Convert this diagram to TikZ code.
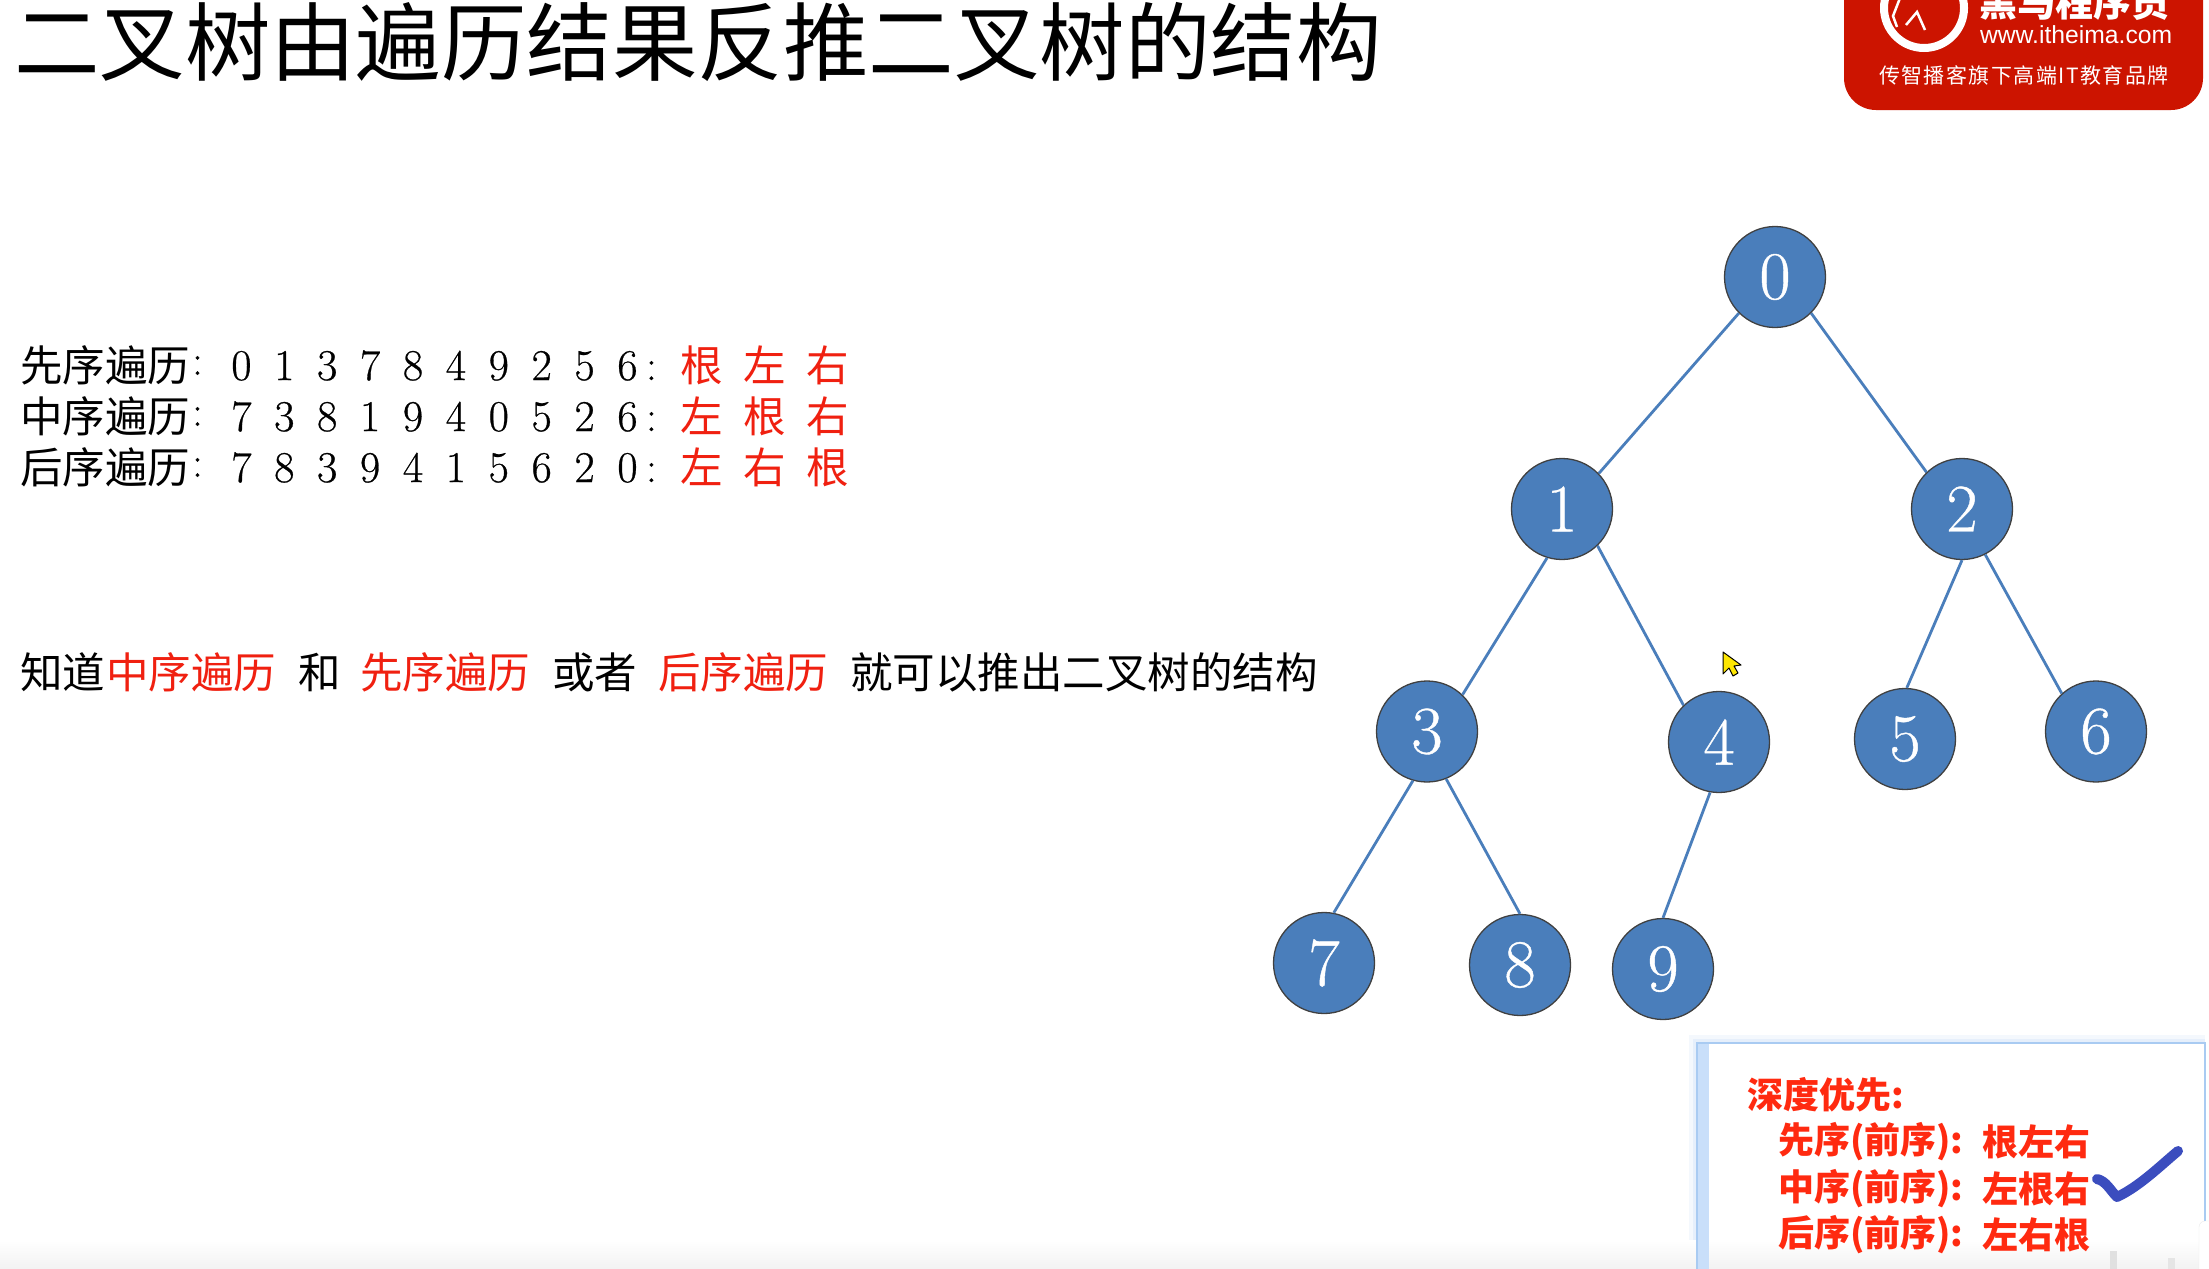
\documentclass[tikz,border=0pt]{standalone}
\usepackage{fontspec}
\newfontfamily\cjk{Noto Sans CJK SC}
\newfontfamily\cjkspaced{Noto Sans CJK SC}[LetterSpace=7]
\newfontfamily\arialf{Liberation Sans}
\newfontfamily\lmheavy{Latin Modern Roman}[FakeBold=0.6]
\usetikzlibrary{calc}
\definecolor{nodeblue}{HTML}{4A7EBB}
\definecolor{logored}{HTML}{CC1400}
\definecolor{txtred}{HTML}{F02010}
\definecolor{boxred}{HTML}{FF2A10}
\definecolor{checkblue}{HTML}{3B4DBE}
\definecolor{stripblue}{HTML}{C9DFFA}
\definecolor{edgeblue}{HTML}{A9CBF2}
\newcommand{\dd}[1]{\makebox[42.9pt]{#1}}
\tikzset{
  treenode/.style={circle,fill=nodeblue,draw=black!75,line width=1.3pt,minimum size=101pt,inner sep=0pt,text=white,font=\lmheavy\fontsize{68}{68}\selectfont},
  treeedge/.style={draw=nodeblue,line width=2.8pt},
  plain/.style={inner sep=0pt,outer sep=0pt,anchor=west,font=\cjk\fontsize{42.5}{42.5}\selectfont},
  digits/.style={inner sep=0pt,outer sep=0pt,anchor=west,font=\lmheavy\fontsize{44}{44}\selectfont},
  redtxt/.style={plain,text=txtred},
  boxtxt/.style={inner sep=0pt,outer sep=0pt,anchor=west,text=boxred,font=\cjk\bfseries\fontsize{36}{36}\selectfont},
  logotxt/.style={inner sep=0pt,outer sep=0pt,anchor=west,text=white}
}
\begin{document}
\begin{tikzpicture}[x=1pt,y=-1pt]
\useasboundingbox (0,0) rectangle (2209,1269);
\clip (0,0) rectangle (2209,1269);
\fill[white] (0,0) rectangle (2209,1269);
% title
\node[plain,font=\cjk\fontsize{85.5}{85.5}\selectfont] (title) at (14,42) {二叉树由遍历结果反推二叉树的结构};
% logo
\fill[logored,rounded corners=32pt] (1844,-60) rectangle (2203,110);
\draw[white,line width=8pt] (1924,8) circle[radius=40pt];
\draw[white,line width=2.5pt] (1897,27) -- (1893,16) -- (1900,-2);
\draw[white,line width=2.5pt] (1906,25) -- (1917,12) -- (1925,30);
\node[logotxt,font=\cjk\bfseries\fontsize{38}{38}\selectfont] (logoname) at (1979,2) {黑马程序员};
\node[logotxt,font=\arialf\fontsize{24.7}{24.7}\selectfont] (logourl) at (1980,35) {www.itheima.com};
\node[logotxt,font=\cjkspaced\fontsize{21}{21}\selectfont] (logoslogan) at (1879,75) {传智播客旗下高端IT教育品牌};
% traversal rows
\node[plain] (l1) at (20,365.5) {先序遍历};
\node[plain] (l2) at (20,416.5) {中序遍历};
\node[plain] (l3) at (20,467.5) {后序遍历};
\node[digits] (c1) at (192,365.5) {:};
\node[digits] (c2) at (192,416.5) {:};
\node[digits] (c3) at (192,467.5) {:};
\node[digits] (d1) at (220,365.5) {\dd0\dd1\dd3\dd7\dd8\dd4\dd9\dd2\dd5\dd6\kern-3pt:};
\node[digits] (d2) at (220,416.5) {\dd7\dd3\dd8\dd1\dd9\dd4\dd0\dd5\dd2\dd6\kern-3pt:};
\node[digits] (d3) at (220,467.5) {\dd7\dd8\dd3\dd9\dd4\dd1\dd5\dd6\dd2\dd0\kern-3pt:};
\node[redtxt] (r1) at (680,365.5) {根\kern21pt 左\kern21pt 右};
\node[redtxt] (r2) at (680,416.5) {左\kern21pt 根\kern21pt 右};
\node[redtxt] (r3) at (680,467.5) {左\kern21pt 右\kern21pt 根};
% sentence
\node[plain] (s1) at (20,672.5) {知道};
\node[redtxt] (s2) at (106,672.5) {中序遍历};
\node[plain] (s3) at (298,672.5) {和};
\node[redtxt] (s4) at (360,672.5) {先序遍历};
\node[plain] (s5) at (552,672.5) {或者};
\node[redtxt] (s6) at (658,672.5) {后序遍历};
\node[plain] (s7) at (850,672.5) {就可以推出二叉树的结构};
% tree
\node[treenode] (n0) at (1775,277) {0};
\node[treenode] (n1) at (1562,509) {1};
\node[treenode] (n2) at (1962,509) {2};
\node[treenode] (n3) at (1427,731.5) {3};
\node[treenode] (n4) at (1719,742) {4};
\node[treenode] (n5) at (1905,739) {5};
\node[treenode] (n6) at (2096,731.5) {6};
\node[treenode] (n7) at (1324,963) {7};
\node[treenode] (n8) at (1520,965) {8};
\node[treenode] (n9) at (1663,969) {9};
\draw[treeedge] (n0.225) -- (n1.44);
\draw[treeedge] (n0.315) -- (n2.134);
\draw[treeedge] (n1.253) -- (n3.46);
\draw[treeedge] (n1.314) -- (n4.134);
\draw[treeedge] (n2.270) -- (n5.88);
\draw[treeedge] (n2.297) -- (n6.132);
\draw[treeedge] (n3.254) -- (n7.79);
\draw[treeedge] (n3.292) -- (n8.90);
\draw[treeedge] (n4.260) -- (n9.90);
% cursor
\fill[yellow!90!orange,draw=black,line width=1pt,line join=round] (1723,652) -- (1723,674) -- (1729,668) -- (1733,676) -- (1738,673) -- (1734,666) -- (1741,665) -- cycle;
% inset box
\draw[edgeblue,opacity=.12,line width=16pt] (1697,1290) -- (1697,1043) -- (2205,1043);
\draw[edgeblue,opacity=.18,line width=8pt] (1697,1290) -- (1697,1043) -- (2205,1043);
\fill[white] (1697,1043) rectangle (2205,1269);
\shade[top color=white,bottom color=black!5] (0,1240) rectangle (2209,1269);
\fill[stripblue] (1697,1043) rectangle (1709,1269);
\draw[edgeblue,line width=2.5pt] (1697,1269) -- (1697,1043) -- (2205,1043) -- (2205,1269);
\fill[white,draw=black!8,rounded corners=6pt] (2199,1221) rectangle (2225,1290);
\fill[black!12] (2110,1251) rectangle (2117,1269);
\fill[black!10] (2168,1258) rectangle (2175,1269);
\node[boxtxt] (b0) at (1747,1095) {深度优先:};
\node[boxtxt] (b1) at (1778,1142) {先序(前序):};
\node[boxtxt] (b2) at (1778,1188.5) {中序(前序):};
\node[boxtxt] (b3) at (1778,1235) {后序(前序):};
\node[boxtxt] (b4) at (1982,1142) {根左右};
\node[boxtxt] (b5) at (1982,1188.5) {左根右};
\node[boxtxt] (b6) at (1982,1235) {左右根};
\draw[checkblue,line width=10pt,line cap=round,line join=round] (2097,1179) .. controls (2106,1181) and (2110,1190) .. (2117,1197) .. controls (2140,1186) and (2160,1166) .. (2178,1151);
\end{tikzpicture}
\end{document}
